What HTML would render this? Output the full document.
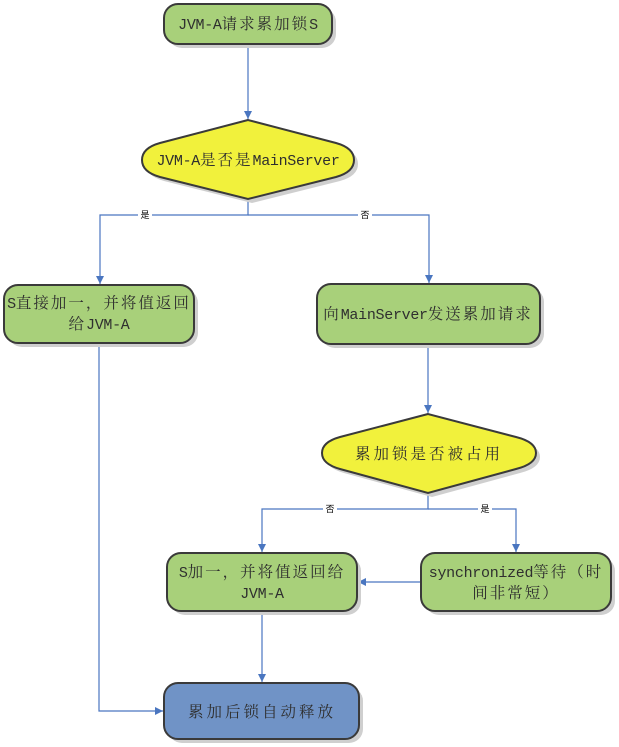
<!DOCTYPE html>
<html><head><meta charset="utf-8">
<style>
html,body{margin:0;padding:0;background:#fff;}
svg{display:block;}
.t{font-family:"Liberation Mono","Noto Serif CJK SC",serif;fill:#2f2f2f;}
.c{font-family:"Noto Serif CJK SC","WenQuanYi Zen Hei",serif;font-size:15.5px;letter-spacing:2px;}
.l{font-family:"Liberation Mono",monospace;font-size:15px;letter-spacing:-0.3px;}
.lab{font-family:"Noto Sans CJK SC",sans-serif;font-size:9px;fill:#000;}
</style></head>
<body>
<svg width="619" height="747" viewBox="0 0 619 747" xmlns="http://www.w3.org/2000/svg">
<defs>
<marker id="a" markerWidth="10" markerHeight="10" refX="8" refY="4.5" orient="auto" markerUnits="userSpaceOnUse">
<path d="M0,0.5 L8,4.5 L0,8.5 Z" fill="#4a76c0"/>
</marker>
</defs>
<g stroke="#4a76c0" stroke-width="1.2" fill="none">
<line x1="248" y1="45" x2="248" y2="119" marker-end="url(#a)"/>
<polyline points="248,200 248,215 100,215 100,284" marker-end="url(#a)"/>
<polyline points="248,215 429,215 429,283" marker-end="url(#a)"/>
<line x1="428" y1="345" x2="428" y2="413" marker-end="url(#a)"/>
<polyline points="428,494 428,509 262,509 262,552" marker-end="url(#a)"/>
<polyline points="428,509 516,509 516,552" marker-end="url(#a)"/>
<line x1="421" y1="582" x2="358" y2="582" marker-end="url(#a)"/>
<line x1="262" y1="612" x2="262" y2="682" marker-end="url(#a)"/>
<polyline points="99,344 99,711 163,711" marker-end="url(#a)"/>
</g>
<rect x="138" y="209" width="14" height="11" fill="#fff"/>
<rect x="358" y="209" width="14" height="11" fill="#fff"/>
<rect x="323" y="503" width="14" height="11" fill="#fff"/>
<rect x="478" y="503" width="14" height="11" fill="#fff"/>
<text class="lab" x="145" y="218" text-anchor="middle">是</text>
<text class="lab" x="365" y="218" text-anchor="middle">否</text>
<text class="lab" x="330" y="512" text-anchor="middle">否</text>
<text class="lab" x="485" y="512" text-anchor="middle">是</text>

<!-- shadows -->
<g fill="#cfcfcf">
<rect x="168" y="8" width="168" height="40" rx="14"/>
<path d="M252,124 L164,147 Q146,152 146,164 Q146,176 164,181 L252,203 L340,181 Q358,176 358,164 Q358,152 340,147 Z"/>
<rect x="8" y="289" width="190" height="58" rx="14"/>
<rect x="321" y="288" width="223" height="60" rx="14"/>
<path d="M432,418 L344,441 Q326,446 326,457 Q326,468 344,473 L432,497 L520,473 Q540,468 540,457 Q540,446 520,441 Z"/>
<rect x="171" y="557" width="190" height="58" rx="14"/>
<rect x="425" y="557" width="190" height="58" rx="14"/>
<rect x="168" y="687" width="195" height="56" rx="14"/>
</g>

<g stroke="#3a3a3a" stroke-width="2">
<rect x="164" y="4" width="168" height="40" rx="14" fill="#a8d07a"/>
<path d="M248,120 L160,143 Q142,148 142,160 Q142,172 160,177 L248,199 L336,177 Q354,172 354,160 Q354,148 336,143 Z" fill="#f1f13c"/>
<rect x="4" y="285" width="190" height="58" rx="14" fill="#a8d07a"/>
<rect x="317" y="284" width="223" height="60" rx="14" fill="#a8d07a"/>
<path d="M428,414 L340,437 Q322,442 322,453 Q322,464 340,469 L428,493 L516,469 Q536,464 536,453 Q536,442 516,437 Z" fill="#f1f13c"/>
<rect x="167" y="553" width="190" height="58" rx="14" fill="#a8d07a"/>
<rect x="421" y="553" width="190" height="58" rx="14" fill="#a8d07a"/>
<rect x="164" y="683" width="195" height="56" rx="14" fill="#7093c6"/>
</g>

<text class="t" x="248" y="29" text-anchor="middle"><tspan class="l">JVM-A</tspan><tspan class="c">请求累加锁</tspan><tspan class="l">S</tspan></text>
<text class="t" x="248" y="165" text-anchor="middle"><tspan class="l">JVM-A</tspan><tspan class="c">是否是</tspan><tspan class="l">MainServer</tspan></text>
<text class="t" x="99" y="308" text-anchor="middle"><tspan class="l">S</tspan><tspan class="c">直接加一，并将值返回</tspan></text>
<text class="t" x="99" y="329" text-anchor="middle"><tspan class="c">给</tspan><tspan class="l">JVM-A</tspan></text>
<text class="t" x="428" y="319" text-anchor="middle"><tspan class="c">向</tspan><tspan class="l">MainServer</tspan><tspan class="c">发送累加请求</tspan></text>
<text class="t" x="429" y="459" text-anchor="middle"><tspan class="c" style="letter-spacing:3px">累加锁是否被占用</tspan></text>
<text class="t" x="262" y="577" text-anchor="middle"><tspan class="l">S</tspan><tspan class="c">加一，并将值返回给</tspan></text>
<text class="t" x="262" y="598" text-anchor="middle"><tspan class="l">JVM-A</tspan></text>
<text class="t" x="516" y="577" text-anchor="middle"><tspan class="l">synchronized</tspan><tspan class="c">等待（时</tspan></text>
<text class="t" x="516" y="598" text-anchor="middle"><tspan class="c">间非常短）</tspan></text>
<text class="t" x="262" y="717" text-anchor="middle"><tspan class="c" style="letter-spacing:3px">累加后锁自动释放</tspan></text>
</svg>
</body></html>
